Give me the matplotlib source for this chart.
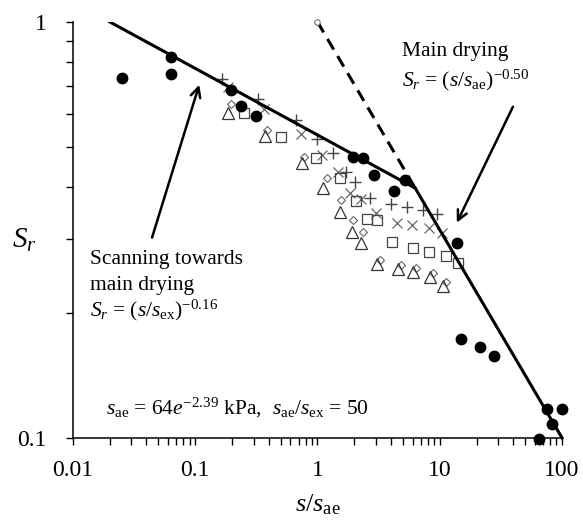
import numpy as np
import matplotlib
matplotlib.use('Agg')
import matplotlib.pyplot as plt
from matplotlib.ticker import FixedLocator, NullFormatter, FixedFormatter

plt.rcParams['font.family'] = 'Liberation Serif'
plt.rcParams['mathtext.fontset'] = 'custom'
plt.rcParams['mathtext.rm'] = 'Liberation Serif'
plt.rcParams['mathtext.it'] = 'Liberation Serif:italic'

# model parameters
main_exp = -0.50
scan_exp = -0.16
sae_over_sex = 50

# measured points, s/s_ae vs S_r
filled_x = [0.0252, 0.0636, 0.0636, 0.197, 0.238, 0.316, 1.97, 2.34, 2.88, 4.20, 5.17,
            13.8, 14.9, 21.3, 27.7, 75.3, 100, 82.8, 64.7]
filled_y = [0.733, 0.824, 0.750, 0.686, 0.628, 0.594, 0.474, 0.471, 0.429, 0.392, 0.417,
            0.294, 0.173, 0.165, 0.157, 0.117, 0.117, 0.108, 0.0995]

plus_x = [0.166, 0.328, 0.673, 1.0, 1.33, 1.70, 2.01, 2.67, 3.97, 5.36, 7.26, 9.45]
plus_y = [0.730, 0.653, 0.581, 0.523, 0.484, 0.436, 0.413, 0.378, 0.365, 0.359, 0.353, 0.346]

cross_x = [0.186, 0.368, 0.739, 1.08, 1.46, 1.86, 2.29, 2.99, 4.44, 5.90, 8.12, 10.4]
cross_y = [0.698, 0.618, 0.538, 0.479, 0.436, 0.388, 0.375, 0.348, 0.329, 0.325, 0.320, 0.311]

diamond_x = [0.197, 0.389, 0.782, 1.19, 1.57, 1.97, 2.34, 3.22, 4.79, 6.36, 8.76, 11.2]
diamond_y = [0.635, 0.550, 0.474, 0.422, 0.373, 0.334, 0.313, 0.268, 0.261, 0.256, 0.249, 0.237]

triangle_x = [0.186, 0.375, 0.753, 1.12, 1.52, 1.90, 2.25, 3.05, 4.53, 6.01, 8.28, 10.6]
triangle_y = [0.604, 0.532, 0.458, 0.399, 0.349, 0.313, 0.294, 0.262, 0.255, 0.251, 0.244, 0.232]

square_x = [0.252, 0.507, 0.981, 1.52, 2.05, 2.52, 3.05, 4.04, 6.01, 8.12, 11.2, 14.0]
square_y = [0.604, 0.529, 0.471, 0.422, 0.371, 0.336, 0.334, 0.296, 0.286, 0.280, 0.274, 0.263]

x_ticks = [0.01, 0.1, 1, 10, 100]
x_labels = ['0.01', '0.1', '1', '10', '100']
y_ticks = [0.1, 1]
y_labels = ['0.1', '1']

fig = plt.figure(figsize=(5.83, 5.20), dpi=100)
ax = fig.add_axes([0.125, 0.158, 0.839, 0.800])
ax.set_xscale('log')
ax.set_yscale('log')

# open symbols
ms_kw = dict(linestyle='none', clip_on=False)
ax.plot(plus_x, plus_y, marker='+', ms=8, mew=1.0, color='#444444', **ms_kw)
ax.plot(cross_x, cross_y, marker='x', ms=6.5, mew=0.9, color='#666666', **ms_kw)
ax.plot(diamond_x, diamond_y, marker='D', ms=4.2, mew=0.8, mfc='white', mec='#666666', **ms_kw)
ax.plot(square_x, square_y, marker='s', ms=7, mew=0.9, mfc='none', mec='#444444', **ms_kw)
ax.plot(triangle_x, triangle_y, marker='^', ms=8, mew=0.9, mfc='none', mec='#333333', **ms_kw)
ax.plot(filled_x, filled_y, marker='o', ms=7.5, color='black', **ms_kw)

# drying curves: scanning branch meets main drying at x_kink
x_kink = sae_over_sex ** (scan_exp / (main_exp - scan_exp))
xs = np.logspace(np.log10(0.02), np.log10(x_kink), 50)
ax.plot(xs, (sae_over_sex * xs) ** scan_exp, color='black', lw=2.2)
xm = np.logspace(np.log10(x_kink), 2, 50)
ax.plot(xm, xm ** main_exp, color='black', lw=2.2, clip_on=False)
xd = np.logspace(0, np.log10(x_kink), 50)
ax.plot(xd, xd ** main_exp, color='black', lw=2.2, linestyle=(0, (4, 2.5)))
ax.plot([1], [1], marker='o', ms=4, mfc='white', mec='#777777', mew=0.8, clip_on=False)

ax.set_xlim(0.01, 100)
ax.set_ylim(0.1, 1)

for side in ['top', 'right']:
    ax.spines[side].set_visible(False)
for side in ['left', 'bottom']:
    ax.spines[side].set_linewidth(1.1)

ax.xaxis.set_major_locator(FixedLocator(x_ticks))
ax.xaxis.set_major_formatter(FixedFormatter(x_labels))
ax.xaxis.set_minor_locator(FixedLocator([m * d for d in [0.01, 0.1, 1, 10] for m in range(2, 10)]))
ax.xaxis.set_minor_formatter(NullFormatter())
ax.yaxis.set_major_locator(FixedLocator(y_ticks))
ax.yaxis.set_major_formatter(FixedFormatter(y_labels))
ax.yaxis.set_minor_locator(FixedLocator([0.1 * m for m in range(2, 10)]))
ax.yaxis.set_minor_formatter(NullFormatter())
ax.tick_params(axis='both', which='both', direction='out', length=5, width=1, labelsize=17)
ax.tick_params(axis='x', which='major', pad=11)
ax.tick_params(axis='y', which='major', pad=14)

ax.set_xlabel(r'$s/s_{\mathrm{ae}}$', fontsize=19, labelpad=8)
ax.set_ylabel(r'$S_r$', fontsize=21, rotation=0, va='center', ha='center')
ax.yaxis.set_label_coords(-0.1, 0.475)

# annotations
arrow_kw = dict(arrowstyle='->,head_length=0.7,head_width=0.35', color='black', lw=1.8,
                shrinkA=0, shrinkB=0)
ax.annotate('', xy=(0.108, 0.706), xytext=(0.0444, 0.303), arrowprops=arrow_kw)
ax.annotate('', xy=(13.8, 0.329), xytext=(39.7, 0.625), arrowprops=arrow_kw)

ax.text(0.0138, 0.268, 'Scanning towards', fontsize=15.5, va='center')
ax.text(0.0138, 0.233, 'main drying', fontsize=15.5, va='center')
ax.text(0.0138, 0.203, r'$S_r$ = ($s/s_{\mathrm{ex}}$)$^{\mathrm{-0.16}}$', fontsize=15.5,
        va='center')
ax.text(4.89, 0.847, 'Main drying', fontsize=15.5, va='center')
ax.text(4.89, 0.725, r'$S_r$ = ($s/s_{\mathrm{ae}}$)$^{\mathrm{-0.50}}$', fontsize=15.5,
        va='center')
ax.text(0.0186, 0.118, r'$s_{\mathrm{ae}}$ = 64$e^{\mathrm{-2.39}}$ kPa,  '
        r'$s_{\mathrm{ae}}/s_{\mathrm{ex}}$ = 50', fontsize=15.5, va='center')

fig.savefig('out.png', dpi=100)
